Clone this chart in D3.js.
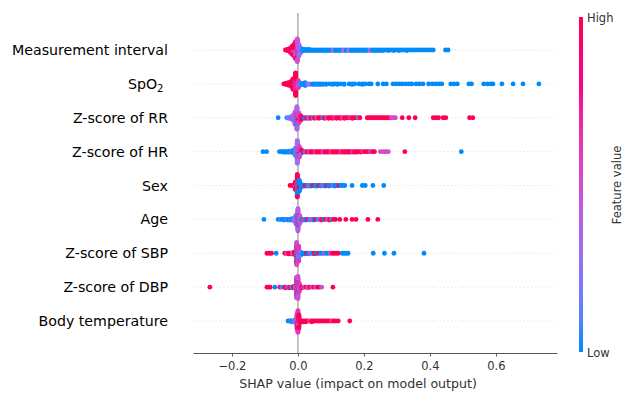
<!DOCTYPE html>
<html>
<head>
<meta charset="utf-8">
<script src="https://cdn.jsdelivr.net/npm/d3@7"></script>
<style>
  body { margin: 0; background: #fff; }
  svg { display: block; font-family: "DejaVu Sans", sans-serif; }
</style>
</head>
<body>
<svg id="chart" width="625" height="393"></svg>
<script>
// feature names, top to bottom
const features = ["Measurement interval", "SpO2", "Z-score of RR", "Z-score of HR", "Sex",
  "Age", "Z-score of SBP", "Z-score of DBP", "Body temperature"];

const xTicks = [-0.2, 0.0, 0.2, 0.4, 0.6];

// each entry: [shap value, feature value (0 low .. 1 high), number of points]
const measurementInterval = [
  [-0.038, 0.95, 1], [-0.032, 0.95, 3], [-0.027, 0.9, 5], [-0.022, 0.9, 8], [-0.022, 0.7, 2],
  [-0.017, 0.85, 12], [-0.017, 0.6, 4], [-0.012, 0.9, 16], [-0.012, 0.5, 6], [-0.007, 0.85, 18],
  [-0.007, 0.45, 14], [-0.002, 0.5, 22], [-0.002, 0.85, 12], [-0.002, 0.35, 8], [0.003, 0.4, 14],
  [0.003, 0.6, 8], [0.008, 0.25, 6], [0.008, 0.4, 4], [0.013, 0.15, 4],
  [0.018, 0.05, 3], [0.026, 0.05, 3], [0.034, 0.05, 3], [0.042, 0.05, 2], [0.05, 0.05, 2],
  [0.058, 0.05, 2], [0.066, 0.05, 2], [0.074, 0.05, 2], [0.082, 0.05, 2], [0.09, 0.05, 2],
  [0.098, 0.05, 2], [0.106, 0.35, 2], [0.114, 0.05, 2], [0.122, 0.05, 2], [0.13, 0.05, 2],
  [0.138, 0.35, 2], [0.146, 0.05, 2], [0.154, 0.3, 2], [0.162, 0.05, 2], [0.17, 0.05, 2],
  [0.178, 0.05, 2], [0.186, 0.05, 2], [0.194, 0.05, 2], [0.202, 0.05, 2], [0.21, 0.05, 2],
  [0.218, 0.35, 2], [0.226, 0.05, 2], [0.234, 0.05, 2], [0.242, 0.05, 2], [0.25, 0.05, 2],
  [0.258, 0.05, 2], [0.266, 0.05, 1], [0.274, 0.05, 2], [0.282, 0.05, 1], [0.29, 0.05, 2],
  [0.298, 0.05, 1], [0.306, 0.05, 2], [0.314, 0.05, 1], [0.322, 0.05, 1], [0.33, 0.05, 2],
  [0.338, 0.05, 1], [0.346, 0.05, 1], [0.354, 0.05, 1], [0.362, 0.05, 1], [0.37, 0.05, 1],
  [0.378, 0.05, 1], [0.386, 0.05, 1], [0.394, 0.05, 1], [0.402, 0.05, 1], [0.41, 0.05, 1],
  [0.447, 0.05, 1], [0.455, 0.05, 1]
];

const spo2 = [
  [-0.043, 0.95, 1], [-0.037, 0.95, 3], [-0.03, 0.9, 5], [-0.022, 0.9, 9], [-0.015, 0.9, 16],
  [-0.015, 0.7, 4], [-0.007, 0.9, 24], [-0.007, 0.65, 12], [-0.007, 0.45, 6], [0.001, 0.6, 8],
  [0.001, 0.3, 6], [0.008, 0.15, 4],
  [0.015, 0.05, 3], [0.022, 0.05, 3], [0.03, 0.35, 2], [0.037, 0.3, 2], [0.045, 0.05, 2],
  [0.052, 0.05, 2], [0.06, 0.05, 2], [0.067, 0.05, 2], [0.075, 0.05, 2], [0.085, 0.05, 2],
  [0.095, 0.05, 1], [0.105, 0.05, 2], [0.112, 0.05, 1], [0.12, 0.05, 2], [0.13, 0.05, 1],
  [0.14, 0.05, 2], [0.155, 0.05, 1], [0.164, 0.05, 2], [0.172, 0.05, 1], [0.185, 0.05, 1],
  [0.195, 0.05, 2], [0.203, 0.05, 1], [0.215, 0.05, 1], [0.222, 0.05, 1], [0.242, 0.05, 1],
  [0.258, 0.05, 1], [0.268, 0.05, 1], [0.288, 0.05, 1], [0.298, 0.05, 1], [0.308, 0.05, 1],
  [0.316, 0.05, 1], [0.327, 0.05, 1], [0.337, 0.05, 1], [0.345, 0.05, 1], [0.358, 0.05, 1],
  [0.368, 0.05, 1], [0.379, 0.05, 1], [0.396, 0.05, 1], [0.407, 0.05, 1], [0.418, 0.05, 1],
  [0.428, 0.05, 1], [0.436, 0.05, 1], [0.463, 0.05, 1], [0.473, 0.05, 1], [0.483, 0.05, 1],
  [0.518, 0.05, 1], [0.526, 0.05, 1], [0.563, 0.05, 1], [0.574, 0.05, 1], [0.585, 0.05, 1],
  [0.591, 0.05, 1], [0.618, 0.05, 1], [0.652, 0.05, 1], [0.682, 0.05, 1], [0.73, 0.05, 1]
];

const zRR = [
  [-0.06, 0.1, 1], [-0.034, 0.15, 1], [-0.028, 0.3, 2], [-0.021, 0.2, 3], [-0.021, 0.5, 2],
  [-0.015, 0.35, 6], [-0.015, 0.1, 3], [-0.009, 0.45, 14], [-0.009, 0.2, 8], [-0.003, 0.4, 20],
  [-0.003, 0.15, 12], [-0.003, 0.7, 8], [0.003, 0.55, 12], [0.003, 0.85, 6], [0.009, 0.8, 5],
  [0.009, 0.3, 3],
  [0.015, 0.9, 2], [0.021, 0.1, 2], [0.027, 0.85, 2], [0.033, 0.45, 2], [0.039, 0.9, 2],
  [0.045, 0.15, 1], [0.051, 0.9, 2], [0.057, 0.5, 1], [0.063, 0.9, 2], [0.069, 0.95, 1],
  [0.075, 0.15, 1], [0.081, 0.9, 2], [0.087, 0.5, 1], [0.093, 0.9, 2], [0.099, 0.95, 1],
  [0.105, 0.9, 2], [0.111, 0.6, 1], [0.117, 0.9, 2], [0.123, 0.95, 1], [0.129, 0.9, 2],
  [0.135, 0.55, 1], [0.141, 0.9, 2], [0.147, 0.95, 1], [0.153, 0.9, 1], [0.159, 0.6, 1],
  [0.165, 0.9, 2], [0.171, 0.95, 1], [0.177, 0.9, 1], [0.183, 0.3, 1], [0.188, 0.85, 1],
  [0.21, 0.9, 1], [0.216, 0.95, 1], [0.222, 0.9, 1], [0.228, 0.95, 1], [0.234, 0.9, 1],
  [0.24, 0.95, 1], [0.246, 0.9, 1], [0.252, 0.95, 1], [0.258, 0.9, 1], [0.264, 0.95, 1],
  [0.27, 0.9, 1], [0.276, 0.9, 1], [0.283, 0.55, 1], [0.289, 0.5, 1], [0.295, 0.55, 1],
  [0.316, 0.9, 1], [0.336, 0.95, 1], [0.355, 0.9, 1], [0.41, 0.9, 1], [0.418, 0.95, 1],
  [0.426, 0.9, 1], [0.44, 0.95, 1], [0.448, 0.9, 1], [0.52, 0.95, 1], [0.53, 0.9, 1]
];

const zHR = [
  [-0.106, 0.1, 1], [-0.095, 0.1, 1], [-0.056, 0.1, 1], [-0.05, 0.05, 1], [-0.044, 0.1, 2],
  [-0.038, 0.1, 2], [-0.032, 0.05, 2], [-0.026, 0.1, 3], [-0.02, 0.15, 3], [-0.014, 0.1, 5],
  [-0.008, 0.2, 10], [-0.008, 0.5, 4], [-0.002, 0.35, 22], [-0.002, 0.15, 12], [-0.002, 0.6, 8],
  [0.004, 0.55, 14], [0.004, 0.8, 6], [0.01, 0.75, 4], [0.01, 0.2, 3],
  [0.016, 0.9, 3], [0.022, 0.2, 2], [0.028, 0.9, 2], [0.034, 0.6, 2], [0.04, 0.9, 2],
  [0.046, 0.95, 2], [0.052, 0.6, 2], [0.058, 0.9, 2], [0.064, 0.95, 2], [0.07, 0.9, 2],
  [0.076, 0.55, 2], [0.082, 0.9, 2], [0.088, 0.95, 2], [0.094, 0.9, 2], [0.1, 0.6, 2],
  [0.106, 0.9, 2], [0.112, 0.95, 2], [0.118, 0.9, 2], [0.124, 0.9, 2], [0.13, 0.6, 2],
  [0.136, 0.9, 2], [0.142, 0.95, 2], [0.148, 0.9, 2], [0.154, 0.9, 2], [0.16, 0.95, 2],
  [0.166, 0.6, 2], [0.172, 0.9, 2], [0.178, 0.95, 2], [0.184, 0.9, 1], [0.19, 0.9, 2],
  [0.196, 0.6, 1], [0.202, 0.9, 1], [0.208, 0.95, 1], [0.214, 0.9, 1], [0.22, 0.55, 1],
  [0.226, 0.9, 1], [0.232, 0.95, 1], [0.25, 0.55, 1], [0.258, 0.5, 1], [0.266, 0.55, 1],
  [0.274, 0.5, 1], [0.324, 0.95, 1], [0.495, 0.05, 1]
];

const sex = [
  [-0.024, 0.9, 1], [-0.014, 0.9, 3], [-0.008, 0.9, 10], [-0.008, 0.3, 4], [-0.002, 0.9, 18],
  [-0.002, 0.1, 14], [-0.002, 0.5, 8], [0.004, 0.1, 12], [0.004, 0.9, 8], [0.01, 0.1, 4],
  [0.01, 0.9, 2],
  [0.016, 0.1, 2], [0.022, 0.9, 2], [0.028, 0.1, 2], [0.034, 0.5, 2], [0.04, 0.1, 2],
  [0.046, 0.9, 1], [0.052, 0.1, 2], [0.058, 0.1, 2], [0.064, 0.9, 1], [0.07, 0.1, 2],
  [0.076, 0.5, 1], [0.082, 0.1, 2], [0.088, 0.9, 1], [0.094, 0.1, 2], [0.1, 0.1, 1],
  [0.106, 0.5, 1], [0.112, 0.1, 2], [0.118, 0.1, 1], [0.124, 0.9, 1], [0.13, 0.1, 1],
  [0.136, 0.1, 1], [0.142, 0.1, 1], [0.164, 0.1, 1], [0.195, 0.1, 1], [0.204, 0.1, 1],
  [0.227, 0.1, 1], [0.26, 0.1, 1]
];

const age = [
  [-0.103, 0.1, 1], [-0.06, 0.1, 1], [-0.054, 0.15, 1], [-0.048, 0.1, 1], [-0.042, 0.1, 2],
  [-0.036, 0.2, 1], [-0.03, 0.1, 2], [-0.024, 0.15, 2], [-0.018, 0.1, 3], [-0.012, 0.3, 4],
  [-0.006, 0.2, 8], [-0.006, 0.5, 6], [0, 0.45, 16], [0, 0.15, 10], [0, 0.8, 8],
  [0.006, 0.5, 8], [0.006, 0.2, 4],
  [0.012, 0.1, 2], [0.018, 0.6, 2], [0.024, 0.1, 2], [0.03, 0.9, 1], [0.036, 0.2, 2],
  [0.042, 0.5, 1], [0.048, 0.1, 2], [0.054, 0.9, 1], [0.06, 0.15, 1], [0.066, 0.55, 1],
  [0.072, 0.9, 2], [0.078, 0.1, 1], [0.084, 0.9, 1], [0.09, 0.5, 1], [0.096, 0.9, 2],
  [0.102, 0.15, 1], [0.108, 0.9, 1], [0.114, 0.9, 1], [0.127, 0.95, 1], [0.145, 0.9, 1],
  [0.164, 0.95, 1], [0.176, 0.9, 1], [0.212, 0.95, 1], [0.242, 0.9, 1]
];

const zSBP = [
  [-0.094, 0.95, 1], [-0.087, 0.9, 1], [-0.08, 0.95, 1], [-0.066, 0.1, 1], [-0.04, 0.9, 1],
  [-0.034, 0.55, 1], [-0.028, 0.9, 2], [-0.022, 0.9, 2], [-0.016, 0.5, 3], [-0.01, 0.9, 5],
  [-0.004, 0.5, 14], [-0.004, 0.9, 10], [-0.004, 0.15, 8], [0.002, 0.6, 12], [0.002, 0.2, 10],
  [0.008, 0.3, 4], [0.008, 0.9, 2],
  [0.014, 0.1, 2], [0.02, 0.1, 2], [0.026, 0.9, 1], [0.032, 0.1, 2], [0.038, 0.5, 1],
  [0.044, 0.1, 1], [0.05, 0.9, 2], [0.056, 0.1, 1], [0.062, 0.9, 1], [0.068, 0.1, 1],
  [0.074, 0.1, 1], [0.08, 0.5, 1], [0.086, 0.1, 1], [0.092, 0.1, 1], [0.098, 0.5, 1],
  [0.104, 0.9, 1], [0.11, 0.95, 1], [0.116, 0.9, 1], [0.122, 0.9, 1], [0.134, 0.1, 1],
  [0.14, 0.1, 1], [0.146, 0.1, 1], [0.152, 0.1, 1], [0.228, 0.1, 1], [0.262, 0.1, 1],
  [0.291, 0.1, 1], [0.382, 0.1, 1]
];

const zDBP = [
  [-0.267, 0.95, 1], [-0.094, 0.95, 1], [-0.089, 0.9, 1], [-0.084, 0.95, 1], [-0.07, 0.1, 1],
  [-0.055, 0.9, 1], [-0.049, 0.5, 1], [-0.043, 0.1, 1], [-0.037, 0.9, 2], [-0.031, 0.5, 1],
  [-0.025, 0.9, 2], [-0.019, 0.15, 2], [-0.013, 0.9, 3], [-0.008, 0.5, 4], [-0.004, 0.5, 14],
  [-0.004, 0.2, 8], [-0.004, 0.85, 8], [0, 0.5, 16], [0, 0.9, 8], [0, 0.15, 8],
  [0.004, 0.6, 8], [0.004, 0.2, 4],
  [0.012, 0.9, 2], [0.018, 0.5, 1], [0.024, 0.9, 1], [0.03, 0.5, 2], [0.036, 0.9, 1],
  [0.042, 0.55, 1], [0.048, 0.9, 1], [0.054, 0.5, 1], [0.06, 0.9, 1], [0.066, 0.9, 1],
  [0.072, 0.5, 1], [0.106, 0.95, 1]
];

const bodyTemp = [
  [-0.03, 0.1, 1], [-0.026, 0.1, 1], [-0.022, 0.15, 1], [-0.018, 0.1, 2], [-0.014, 0.2, 2],
  [-0.01, 0.15, 3], [-0.006, 0.4, 5], [-0.003, 0.5, 12], [-0.003, 0.2, 6], [0, 0.6, 16],
  [0, 0.9, 10], [0.003, 0.9, 10], [0.003, 0.5, 6], [0.006, 0.85, 4],
  [0.012, 0.95, 2], [0.018, 0.9, 2], [0.024, 0.95, 2], [0.03, 0.9, 1], [0.036, 0.55, 1],
  [0.042, 0.9, 2], [0.048, 0.95, 1], [0.054, 0.9, 1], [0.06, 0.95, 1], [0.066, 0.9, 1],
  [0.072, 0.9, 1], [0.078, 0.95, 1], [0.084, 0.9, 1], [0.09, 0.95, 1], [0.096, 0.9, 1],
  [0.102, 0.6, 1], [0.108, 0.95, 1], [0.115, 0.9, 1], [0.122, 0.95, 1], [0.157, 0.95, 1]
];

const shapData = [measurementInterval, spo2, zRR, zHR, sex, age, zSBP, zDBP, bodyTemp];

const svg = d3.select("#chart");

const x = d3.scaleLinear().domain([-0.318, 0.785]).range([193, 557]);
const y = d3.scalePoint().domain(features).range([50, 321]);
const rowStep = y.step();
const ramp = d3.interpolateHcl("#008bfb", "#ff0052");
// like shap, clip feature values to the 5th..95th percentile band before colouring
const color = d3.scaleSequential(ramp).domain([0.12, 0.88]).clamp(true);

// points with the same shap value get mixed so the piles look speckled
function expand(entries) {
  const out = [];
  d3.groups(entries, d => d[0]).forEach(([, es]) => {
    const left = es.map(e => e[2]);
    let any = true;
    while (any) {
      any = false;
      es.forEach((e, k) => {
        if (left[k] > 0) { out.push({ s: e[0], fv: e[1] }); left[k]--; any = true; }
      });
    }
  });
  return out;
}

// same binning as shap's beeswarm
function swarm(pts) {
  const s = pts.map(p => p.s);
  const mn = d3.min(s), mx = d3.max(s);
  const quant = s.map(v => Math.round(100 * (v - mn) / (mx - mn + 1e-8)));
  const inds = d3.range(s.length).sort((a, b) => quant[a] - quant[b] || a - b);
  const ys = new Array(s.length).fill(0);
  let layer = 0, last = -1;
  inds.forEach(i => {
    if (quant[i] !== last) layer = 0;
    ys[i] = Math.ceil(layer / 2) * ((layer % 2) * 2 - 1);
    layer++;
    last = quant[i];
  });
  const m = d3.max(ys, v => v + 1);
  return ys.map(v => v * 0.9 * (0.4 / m));
}

const grid = svg.append("g");
grid.selectAll("line.row")
  .data(features)
  .join("line")
  .attr("class", "row")
  .attr("x1", x.range()[0]).attr("x2", x.range()[1])
  .attr("y1", d => y(d)).attr("y2", d => y(d))
  .attr("stroke", "#cccccc")
  .attr("stroke-width", 0.8)
  .attr("stroke-dasharray", "0.8,3");

grid.append("line")
  .attr("x1", x(0)).attr("x2", x(0))
  .attr("y1", 13).attr("y2", 353)
  .attr("stroke", "#999999")
  .attr("stroke-width", 1.2);

const dots = svg.append("g");
features.forEach((f, i) => {
  const pts = expand(shapData[i]);
  const off = swarm(pts);
  dots.append("g")
    .selectAll("circle")
    .data(pts)
    .join("circle")
    .attr("cx", d => x(d.s))
    .attr("cy", (d, k) => y(f) + off[k] * rowStep)
    .attr("r", 2.4)
    .attr("fill", d => color(d.fv));
});

// feature labels
const labels = svg.append("g")
  .attr("font-size", 14.2)
  .attr("text-anchor", "end")
  .attr("fill", "#000");
features.forEach(f => {
  const t = labels.append("text")
    .attr("x", 168)
    .attr("y", y(f) + 5);
  if (f === "SpO2") {
    t.append("tspan").text("SpO");
    t.append("tspan").attr("font-size", 10).attr("dy", 3).text("2");
    t.append("tspan").attr("dy", -3).text("\u00a0");
  } else {
    t.text(f);
  }
});

// x axis
const axis = svg.append("g")
  .attr("transform", "translate(0,353)")
  .call(d3.axisBottom(x).tickValues(xTicks).tickSize(3.5).tickSizeOuter(0)
    .tickFormat(d3.format(".1f")));
axis.select(".domain").attr("stroke", "#555");
axis.selectAll(".tick line").attr("stroke", "#555");
axis.selectAll(".tick text")
  .attr("fill", "#333")
  .attr("font-size", 11.5)
  .attr("font-family", "DejaVu Sans, sans-serif")
  .attr("dy", "0.95em");

svg.append("text")
  .attr("x", 358)
  .attr("y", 388)
  .attr("text-anchor", "middle")
  .attr("font-size", 12.6)
  .attr("fill", "#333")
  .text("SHAP value (impact on model output)");

// colour bar
const grad = svg.append("defs").append("linearGradient")
  .attr("id", "fv").attr("x1", 0).attr("x2", 0).attr("y1", 1).attr("y2", 0);
grad.selectAll("stop")
  .data(d3.range(0, 1.0001, 0.1))
  .join("stop")
  .attr("offset", d => d)
  .attr("stop-color", d => ramp(d));

svg.append("rect")
  .attr("x", 579).attr("y", 17)
  .attr("width", 4).attr("height", 335)
  .attr("fill", "url(#fv)");

svg.append("text").attr("x", 587).attr("y", 22)
  .attr("font-size", 11.5).attr("fill", "#333").text("High");
svg.append("text").attr("x", 587).attr("y", 357)
  .attr("font-size", 11.5).attr("fill", "#333").text("Low");
svg.append("text")
  .attr("transform", "translate(621,185) rotate(-90)")
  .attr("text-anchor", "middle")
  .attr("font-size", 11.5).attr("fill", "#333")
  .text("Feature value");
</script>
</body>
</html>
